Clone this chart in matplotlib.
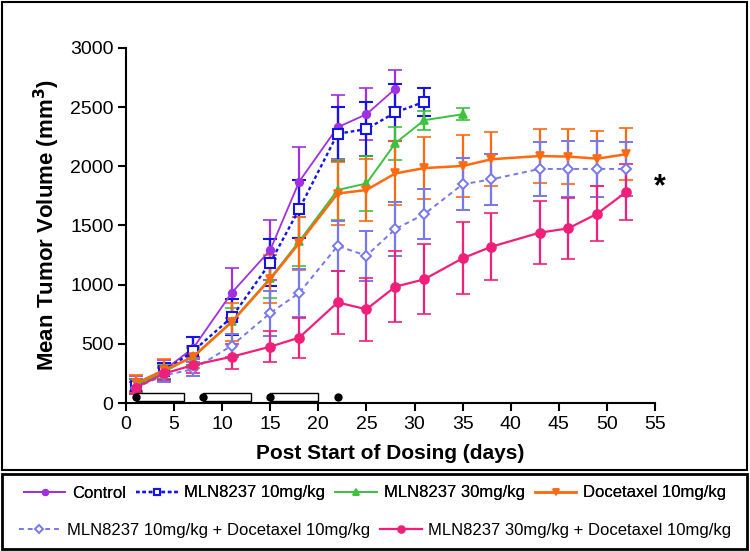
import matplotlib
matplotlib.use("Agg")
import matplotlib.pyplot as plt
from matplotlib.lines import Line2D
from matplotlib.patches import Rectangle
import numpy as np

plt.rcParams['font.family'] = ['Liberation Sans', 'DejaVu Sans']

days = [1, 4, 7, 11, 15, 18, 22, 25, 28, 31, 35, 38, 43, 46, 49, 52]

control = [160, 280, 465, 932, 1293, 1870, 2330, 2440, 2655]
control_err = [65, 85, 90, 212, 254, 297, 270, 220, 155]

mln10 = [145, 270, 440, 725, 1186, 1637, 2275, 2315, 2455, 2545]
mln10_err = [60, 70, 115, 150, 200, 245, 230, 230, 240, 120]

mln30 = [150, 265, 395, 690, 1055, 1365, 1800, 1855, 2195, 2390, 2440]
mln30_err = [50, 60, 70, 110, 165, 210, 250, 230, 140, 80, 50]

doc10 = [165, 280, 390, 685, 1048, 1350, 1770, 1800, 1940, 1985, 2003, 2060, 2087, 2082, 2065, 2102]
doc10_err = [70, 90, 95, 160, 200, 225, 265, 265, 270, 265, 260, 230, 230, 230, 230, 220]

combo10 = [130, 235, 285, 485, 760, 930, 1327, 1245, 1470, 1595, 1848, 1890, 1978, 1978, 1978, 1978]
combo10_err = [50, 60, 60, 100, 190, 205, 210, 210, 230, 210, 220, 215, 230, 235, 235, 230]

combo30 = [130, 250, 321, 391, 476, 552, 850, 792, 983, 1045, 1223, 1321, 1439, 1476, 1600, 1783]
combo30_err = [50, 55, 70, 105, 133, 170, 265, 265, 300, 295, 305, 285, 265, 260, 230, 240]

labels = ["Control", "MLN8237 10mg/kg", "MLN8237 30mg/kg", "Docetaxel 10mg/kg",
          "MLN8237 10mg/kg + Docetaxel 10mg/kg", "MLN8237 30mg/kg + Docetaxel 10mg/kg"]

dose_starts = [1, 8, 15]
dose_ends = [6, 13, 20]
dose_dots = [1, 8, 15, 22]

series = [
    (control, control_err, dict(color='#A030E0', marker='o', ms=5.5, mfc='#A030E0', ls='-', lw=1.3)),
    (mln10, mln10_err, dict(color='#1414E6', marker='s', ms=6.5, mfc='white', ls=(0, (1.5, 1.2)), lw=1.7, mew=1.5)),
    (mln30, mln30_err, dict(color='#3CC23C', marker='^', ms=5.5, mfc='#3CC23C', ls='-', lw=1.4)),
    (doc10, doc10_err, dict(color='#FF6A10', marker='v', ms=5.5, mfc='#FF6A10', ls='-', lw=1.8)),
    (combo10, combo10_err, dict(color='#7777EE', marker='D', ms=5.5, mfc='white', ls=(0, (2.5, 2)), lw=1.4, mew=1.4)),
    (combo30, combo30_err, dict(color='#F0207A', marker='o', ms=6.5, mfc='#F0207A', ls='-', lw=1.6)),
]

fig = plt.figure(figsize=(7.5, 5.51), dpi=100)
ax = fig.add_axes([0.168, 0.2686, 0.7053, 0.6443])

handles = []
for (vals, errs, st), lab in zip(series, labels):
    x = days[:len(vals)]
    ax.errorbar(x, vals, yerr=errs, color=st['color'], ecolor=st['color'], elinewidth=1.6,
                capsize=5, capthick=1.6, marker=st['marker'], ms=st['ms'], mfc=st['mfc'],
                mec=st['color'], mew=st.get('mew', 1.2), ls=st['ls'], lw=st['lw'], clip_on=False)
    handles.append(Line2D([0], [0], color=st['color'], marker=st['marker'], ms=st['ms'] - 1.5,
                          mfc=st['mfc'], mec=st['color'], mew=st.get('mew', 1.2), ls=st['ls'], lw=st['lw']))

# dosing schedule
for s, e in zip(dose_starts, dose_ends):
    ax.add_patch(Rectangle((s, 18), e - s, 66, facecolor='white', edgecolor='black', lw=1.0, zorder=5))
ax.plot(dose_dots, [50] * len(dose_dots), 'o', color='black', ms=5, zorder=6, clip_on=False)

ax.text(55.5, 1820, '*', fontsize=22, fontweight='bold', ha='center', va='center')

ax.set_xlim(0, 55)
ax.set_ylim(0, 3000)
ax.set_xticks(range(0, 56, 5))
ax.set_yticks(range(0, 3001, 500))
for sp in ['top', 'right']:
    ax.spines[sp].set_visible(False)
for sp in ['left', 'bottom']:
    ax.spines[sp].set_linewidth(1.5)
ax.tick_params(direction='out', length=6, width=1.5, labelsize=14, pad=3)
ax.set_ylabel('Mean Tumor Volume (mm$^\\mathbf{3}$)', fontsize=16, fontweight='bold', labelpad=6)
ax.set_xlabel('Post Start of Dosing (days)', fontsize=15, fontweight='bold', labelpad=8)

# outer boxes
fig.patches.append(Rectangle((2 / 750, 1 - 470 / 551), 745 / 750, 468 / 551, transform=fig.transFigure,
                             fill=False, edgecolor='black', lw=1.5))
fig.patches.append(Rectangle((2 / 750, 1 - 549 / 551), 745 / 750, 75 / 551, transform=fig.transFigure,
                             fill=False, edgecolor='black', lw=2.0))

leg1 = fig.legend(handles[:4], labels[:4], loc='center', bbox_to_anchor=(0.5, 1 - 493 / 551), ncol=4,
                  frameon=False, fontsize=12, handlelength=2.5, handletextpad=0.4, columnspacing=0.6)
leg2 = fig.legend(handles[4:], labels[4:], loc='center', bbox_to_anchor=(0.5, 1 - 530 / 551), ncol=2,
                  frameon=False, fontsize=12, handlelength=2.5, handletextpad=0.4, columnspacing=0.6)
fig.add_artist(leg1)

fig.savefig('out.png', dpi=100)
